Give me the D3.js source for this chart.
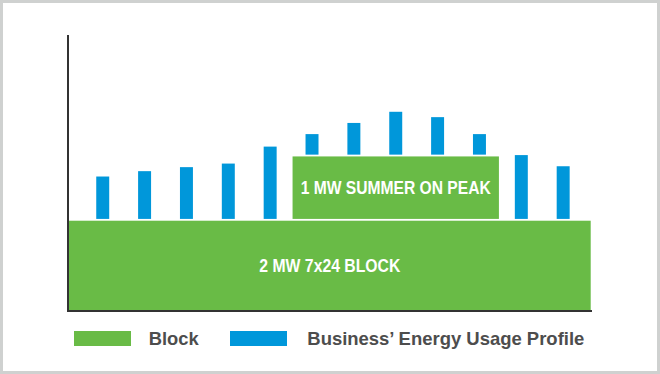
<!DOCTYPE html>
<html>
<head>
<meta charset="utf-8">
<script src="https://cdn.jsdelivr.net/npm/d3@7"></script>
<style>
  html, body { margin: 0; padding: 0; background: #fff; }
  svg { display: block; }
</style>
</head>
<body>
<div id="chart"></div>
<script>
// ---- data ----
const months = ["Jan","Feb","Mar","Apr","May","Jun","Jul","Aug","Sep","Oct","Nov","Dec"];
const usage = [2.99, 3.11, 3.20, 3.28, 3.66, 3.94, 4.19, 4.44, 4.32, 3.94, 3.47, 3.22];
const blockNames = ["base", "summer"];
const blockLabels = ["2 MW 7x24 BLOCK", "1 MW SUMMER ON PEAK"];
const blockBottom = [0, 2];
const blockTop = [2, 3.44];
const summerMonths = ["Jun","Jul","Aug","Sep","Oct"];
const legendLabels = ["Block", "Business\u2019 Energy Usage Profile"];

// ---- layout ----
const W = 660, H = 374;
const green = "#69bb46", blue = "#0097da", axisColor = "#333333", textGray = "#4d4d4d";
const plotLeft = 68, plotRight = 592, plotBottom = 310, plotTop = 35;
const gap = 1.8;

const svg = d3.select("#chart").append("svg").attr("width", W).attr("height", H);

// border
svg.append("rect").attr("x", 1.5).attr("y", 1.5).attr("width", W - 3).attr("height", H - 3)
  .attr("fill", "#fff").attr("stroke", "#cfd1d0").attr("stroke-width", 3);

const x = d3.scaleBand().domain(months).range([81.8, 584.1])
  .paddingInner(0.69).paddingOuter(0.345);
const y = d3.scaleLinear().domain([0, 6.16]).range([plotBottom, plotTop]);
const bw = x.bandwidth();

// bars (profile): sit on top of whichever block lies beneath
const barData = months.map((m, i) => ({ m, v: usage[i], base: summerMonths.includes(m) ? blockTop[1] : blockTop[0] }));
svg.append("g").selectAll("rect").data(barData).join("rect")
  .attr("x", d => x(d.m))
  .attr("width", bw)
  .attr("y", d => y(d.v))
  .attr("height", d => (y(d.base) - gap) - y(d.v))
  .attr("fill", blue);

// blocks
const blocks = blockNames.map((n, i) => {
  let x0, x1;
  if (n === "base") { x0 = plotLeft + 1; x1 = plotRight - 1.3; }
  else { x0 = x(summerMonths[0]) - bw; x1 = x(summerMonths[summerMonths.length - 1]) + 2 * bw; }
  const yTop = y(blockTop[i]);
  const yBot = i === 0 ? y(blockBottom[i]) : y(blockBottom[i]) - gap;
  return { n, label: blockLabels[i], x0, x1, yTop, yBot };
});
const bg = svg.append("g");
bg.selectAll("rect").data(blocks).join("rect")
  .attr("x", d => d.x0).attr("width", d => d.x1 - d.x0)
  .attr("y", d => d.yTop).attr("height", d => d.yBot - d.yTop)
  .attr("fill", green);
const labelWidths = { base: 141, summer: 190 };
bg.selectAll("text").data(blocks).join("text")
  .attr("x", d => (d.x0 + d.x1) / 2)
  .attr("y", d => (d.yTop + d.yBot) / 2 + 6.8)
  .attr("text-anchor", "middle")
  .attr("fill", "#fff")
  .attr("font-family", "'Liberation Sans', Arial, sans-serif")
  .attr("font-weight", "bold")
  .attr("font-size", 19)
  .attr("textLength", d => labelWidths[d.n])
  .attr("lengthAdjust", "spacingAndGlyphs")
  .text(d => d.label);

// axes (lines only)
svg.append("line").attr("x1", plotLeft).attr("x2", plotLeft).attr("y1", plotTop).attr("y2", plotBottom + 2)
  .attr("stroke", axisColor).attr("stroke-width", 2);
svg.append("line").attr("x1", plotLeft - 1).attr("x2", plotRight).attr("y1", plotBottom + 1).attr("y2", plotBottom + 1)
  .attr("stroke", axisColor).attr("stroke-width", 2);

// legend
const legend = [
  { label: legendLabels[0], color: green, sx: 74, tx: 148.7, tw: 50 },
  { label: legendLabels[1], color: blue, sx: 230, tx: 307.3, tw: 277 }
];
const lg = svg.append("g");
lg.selectAll("rect").data(legend).join("rect")
  .attr("x", d => d.sx).attr("y", 331).attr("width", 57).attr("height", 15)
  .attr("fill", d => d.color);
lg.selectAll("text").data(legend).join("text")
  .attr("x", d => d.tx).attr("y", 345)
  .attr("fill", textGray)
  .attr("font-family", "'Liberation Sans', Arial, sans-serif")
  .attr("font-weight", "bold")
  .attr("font-size", 18.5)
  .attr("textLength", d => d.tw)
  .attr("lengthAdjust", "spacingAndGlyphs")
  .text(d => d.label);
</script>
</body>
</html>
